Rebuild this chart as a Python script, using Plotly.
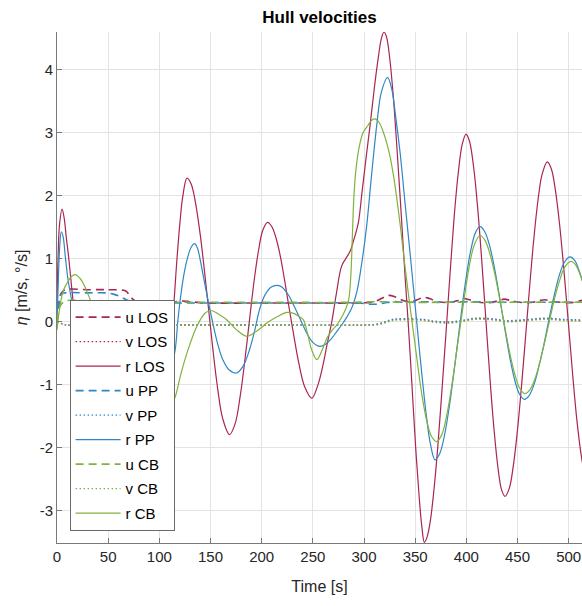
import plotly.graph_objects as go

# ---------------- data ----------------
t_r_los = [0, 1, 2.5, 4.9, 7, 9, 11.3, 14.5, 17, 20, 25, 35, 50, 70, 90, 108, 111, 112.5,
           114, 117, 120, 123, 127, 131, 135, 140, 144, 148, 152, 157, 162, 168.6,
           174, 179, 184, 188.8, 193, 197, 201, 205.7, 210, 214, 218, 222, 226, 231, 236, 242, 249,
           255, 260, 264, 268.5, 273, 278, 282, 286.4, 290, 294.5, 298, 302, 306, 310, 314, 317, 319.5,
           322, 325, 328.5, 332, 336, 340, 343.5, 347, 350.5, 354, 356.5, 359, 361.5, 364.6,
           368, 372, 376, 380, 384, 388, 392, 396, 399.7, 403, 407, 411, 415, 419, 423, 427, 431, 434.5, 437.8,
           442, 446, 450, 454, 458, 462, 466, 470, 474, 479.1, 483, 487, 491, 495, 499.6, 504, 508, 513, 517]
r_los = [0.3, 1.0, 1.55, 1.79, 1.65, 1.35, 1.04, 0.52, 0.15, -0.1, -0.2, -0.1, 0.0, 0.0, 0.0, 0.0, 0.05, 0.0,
         0.25, 0.95, 1.55, 2.0, 2.28, 2.19, 1.92, 1.38, 0.82, 0.22, -0.39, -1.06, -1.54, -1.79,
         -1.62, -1.18, -0.55, 0.13, 0.70, 1.14, 1.45, 1.58, 1.51, 1.33, 1.06, 0.7, 0.3, -0.18, -0.63, -1.03, -1.21,
         -1.0, -0.68, -0.35, 0.0, 0.45, 0.88, 1.0, 1.12, 1.3, 1.58, 2.05, 2.6, 3.13, 3.7, 4.2, 4.5, 4.6,
         4.52, 4.2, 3.6, 2.8, 1.8, 0.75, -0.1, -1.05, -2.0, -2.8, -3.25, -3.5, -3.42, -3.18,
         -2.72, -2.0, -1.12, -0.2, 0.75, 1.65, 2.35, 2.82, 2.98, 2.87, 2.47, 1.82, 0.98, 0.05, -0.88, -1.70, -2.33, -2.67, -2.77,
         -2.64, -2.27, -1.71, -1.0, -0.21, 0.59, 1.33, 1.93, 2.34, 2.54, 2.43, 2.09, 1.56, 0.88, 0.0, -0.86, -1.56, -2.2, -2.52]

t_r_pp = [0, 1, 2.5, 4.2, 6, 8.1, 10.5, 13, 16, 20, 30, 45, 60, 75, 90, 100, 106, 110,
          115.5, 118, 120.4, 124, 127, 131, 134.4, 137, 140, 143, 148, 152, 157, 162, 168, 175.8,
          182, 188, 193, 198, 203, 209, 215.3, 220, 226, 232, 238, 244, 250, 257,
          262, 268, 274, 279, 283, 288, 293, 297.5, 302.7, 307.5, 312.5, 317, 323, 327, 331, 335.3, 340, 345, 351.5,
          356, 361, 365, 369.4, 374, 379, 384, 389, 394, 399, 404, 409, 413.4, 418, 423, 428, 433, 438, 443, 448, 452, 456.7,
          461, 466, 471, 476, 481, 486, 491, 496, 501.3, 506, 510, 513, 516]
r_pp = [0.0, 0.5, 1.15, 1.43, 1.35, 1.04, 0.7, 0.46, 0.2, -0.05, -0.25, -0.2, -0.1, -0.2, -0.6, -0.9, -1.0, -0.85,
        -0.44, 0.0, 0.35, 0.75, 0.98, 1.18, 1.24, 1.18, 0.98, 0.72, 0.31, 0.0, -0.35, -0.6, -0.76, -0.81,
        -0.7, -0.45, -0.15, 0.2, 0.42, 0.55, 0.58, 0.55, 0.43, 0.24, 0.03, -0.175, -0.325, -0.39,
        -0.36, -0.27, -0.14, -0.03, 0.07, 0.22, 0.48, 0.9, 1.54, 2.35, 3.13, 3.65, 3.88, 3.7, 3.25, 2.68, 1.9, 1.09, 0.0,
        -0.75, -1.5, -1.95, -2.19, -2.09, -1.77, -1.27, -0.65, 0.0, 0.615, 1.11, 1.42, 1.51, 1.43, 1.19, 0.81, 0.34, -0.15, -0.61, -0.97, -1.15, -1.23,
        -1.18, -1.0, -0.7, -0.34, 0.06, 0.43, 0.75, 0.95, 1.03, 0.97, 0.82, 0.67, 0.5]

t_r_cb = [0, 2, 4, 6.5, 10, 14, 17.9, 22, 26, 30, 32.5, 40, 50, 60, 75, 90, 100, 108, 112,
          115.5, 120.4, 125, 130, 136.7, 144.8, 150.7, 158, 166, 175, 185.5, 195, 205, 215, 224.6,
          232, 237, 240.8, 245, 249, 254, 259, 263.7, 268, 273.4, 278, 282, 285, 287, 288.5, 290, 292, 295, 299, 304,
          307.5, 310.8, 314, 318, 322, 325.5, 329, 332.5, 336, 339, 342.5, 346.7, 351, 356, 361, 366, 371,
          376, 381, 386, 391, 395.5, 400, 404, 408, 413.4, 418, 423, 428, 433, 438, 443, 448, 452, 457.3,
          462, 467, 472, 477, 481.6, 486, 491, 496, 502.2, 506, 510, 513, 516]
r_cb = [-0.13, 0.15, 0.35, 0.51, 0.62, 0.72, 0.75, 0.7, 0.6, 0.45, 0.35, 0.0, -0.4, -0.7, -0.9, -1.1, -1.3, -1.35, -1.3,
        -1.19, -0.87, -0.6, -0.35, -0.07, 0.14, 0.18, 0.12, 0.03, -0.12, -0.23, -0.15, -0.02, 0.08, 0.15,
        0.13, 0.08, 0.03, -0.2, -0.45, -0.6, -0.45, -0.26, -0.15, -0.05, 0.07, 0.2, 0.35, 0.7, 1.3, 1.95, 2.4, 2.75, 3.0, 3.12,
        3.2, 3.22, 3.18, 3.05, 2.85, 2.62, 2.3, 1.9, 1.45, 1.02, 0.55, 0.03, -0.5, -1.1, -1.55, -1.82, -1.9,
        -1.79, -1.47, -0.99, -0.41, 0.1, 0.6, 0.98, 1.23, 1.37, 1.30, 1.08, 0.745, 0.325, -0.12, -0.54, -0.87, -1.05, -1.14,
        -1.08, -0.907, -0.63, -0.29, 0.045, 0.355, 0.65, 0.865, 0.96, 0.92, 0.8, 0.67, 0.55]

t_u_los = [0, 2, 4, 8, 30, 50, 65, 68, 71, 74, 78, 85, 110, 116, 122, 130, 145, 200, 240, 290,
           310, 318, 324, 330, 338, 345, 352, 358, 364, 372, 385, 392, 397, 403, 412, 425, 432, 437,
           443, 452, 465, 472, 477, 483, 492, 505, 512, 516]
u_los = [0.0, 0.3, 0.45, 0.51, 0.51, 0.51, 0.5, 0.48, 0.42, 0.36, 0.32, 0.31, 0.31, 0.32, 0.33, 0.32, 0.3, 0.3, 0.3, 0.3,
         0.32, 0.38, 0.42, 0.40, 0.34, 0.32, 0.35, 0.39, 0.37, 0.32, 0.31, 0.34, 0.37, 0.35, 0.31, 0.31, 0.34, 0.36,
         0.34, 0.31, 0.31, 0.34, 0.35, 0.33, 0.31, 0.31, 0.34, 0.35]

t_u_pp = [0, 2, 4, 8, 30, 48, 55, 62, 68, 75, 85, 120, 200, 260, 295, 305, 312, 320, 330, 340, 359, 370,
          400, 420, 440, 480, 516]
u_pp = [0.0, 0.3, 0.44, 0.46, 0.46, 0.46, 0.44, 0.4, 0.35, 0.31, 0.3, 0.3, 0.3, 0.3, 0.3, 0.28, 0.28, 0.3, 0.32, 0.31, 0.32, 0.31,
        0.32, 0.31, 0.31, 0.31, 0.31]

t_u_cb = [0, 3, 8, 20, 40, 60, 80, 110, 200, 290, 310, 320, 340, 380, 420, 460, 516]
u_cb = [0.0, 0.25, 0.33, 0.34, 0.33, 0.32, 0.31, 0.31, 0.31, 0.31, 0.32, 0.32, 0.31, 0.31, 0.31, 0.31, 0.31]

t_v = [0, 10, 60, 115, 200, 300, 312, 320, 328, 340, 358, 370, 385, 398, 410, 425, 440, 460, 478, 495, 516]
v_los = [0.0, -0.05, -0.05, -0.05, -0.05, -0.05, -0.04, -0.01, 0.03, 0.04, 0.03, 0.0, -0.01, 0.02, 0.05, 0.04, 0.01, 0.03, 0.05, 0.03, 0.02]
v_pp = [0.0, -0.05, -0.05, -0.05, -0.05, -0.05, -0.04, 0.0, 0.04, 0.05, 0.04, 0.01, 0.0, 0.03, 0.06, 0.05, 0.02, 0.04, 0.06, 0.04, 0.03]
v_cb = [0.0, -0.05, -0.05, -0.05, -0.05, -0.05, -0.05, -0.02, 0.02, 0.03, 0.02, -0.01, -0.02, 0.01, 0.04, 0.03, 0.0, 0.02, 0.04, 0.02, 0.01]

x_ticks = [0, 50, 100, 150, 200, 250, 300, 350, 400, 450, 500]
x_tick_labels = ["0", "50", "100", "150", "200", "250", "300", "350", "400", "450", "500"]
y_ticks = [-3, -2, -1, 0, 1, 2, 3, 4]
y_tick_labels = ["-3", "-2", "-1", "0", "1", "2", "3", "4"]

# ---------------- styling ----------------
RED = "#A8264F"
BLUE = "#2F86C6"
GREEN = "#80B23E"
FONT = "Liberation Sans, Arial, sans-serif"

series = [
    ("u LOS", t_u_los, u_los, RED, "8px,5px", 1.6),
    ("v LOS", t_v, v_los, RED, "1.5px,2.5px", 1.3),
    ("r LOS", t_r_los, r_los, RED, "solid", 1.2),
    ("u PP", t_u_pp, u_pp, BLUE, "8px,5px", 1.6),
    ("v PP", t_v, v_pp, BLUE, "1.5px,2.5px", 1.3),
    ("r PP", t_r_pp, r_pp, BLUE, "solid", 1.2),
    ("u CB", t_u_cb, u_cb, GREEN, "8px,5px", 1.6),
    ("v CB", t_v, v_cb, GREEN, "1.5px,2.5px", 1.3),
    ("r CB", t_r_cb, r_cb, GREEN, "solid", 1.2),
]

fig = go.Figure()
for i, (name, tx, vy, col, dash, w) in enumerate(series):
    fig.add_trace(go.Scatter(
        x=tx, y=vy, name=name, mode="lines", legendgroup=str(i),
        line=dict(color=col, dash=dash, width=w, shape="spline", smoothing=1.0),
    ))

fig.update_layout(
    width=582, height=606,
    margin=dict(l=57, r=0, t=32, b=63),
    paper_bgcolor="white", plot_bgcolor="white",
    font=dict(family=FONT, size=15, color="#262626"),
    title=dict(text="<b>Hull velocities</b>", x=0.5, xref="paper", xanchor="center",
               y=1 - 17 / 606, yref="container", yanchor="middle",
               font=dict(size=17, color="#000000", family=FONT)),
    showlegend=True,
    legend=dict(x=0.024, y=0.4758, xanchor="left", yanchor="top",
                bgcolor="white", bordercolor="#6a6a6a", borderwidth=1,
                font=dict(size=15, color="#000000", family=FONT),
                tracegroupgap=2, itemwidth=45),
)
fig.update_xaxes(
    range=[0, 513], tickvals=x_ticks, ticktext=x_tick_labels,
    showgrid=True, gridcolor="#e3e3e3", gridwidth=1,
    showline=True, linecolor="#7a7a7a", linewidth=1,
    ticks="inside", ticklen=5, tickcolor="#7a7a7a",
    zeroline=False, mirror=False,
    title=dict(text="Time [s]", font=dict(size=16, color="#262626"), standoff=16),
    tickfont=dict(size=15, color="#262626"),
)
fig.update_yaxes(
    range=[-3.51, 4.6], tickvals=y_ticks, ticktext=y_tick_labels,
    showgrid=True, gridcolor="#e3e3e3", gridwidth=1,
    showline=True, linecolor="#7a7a7a", linewidth=1,
    ticks="inside", ticklen=5, tickcolor="#7a7a7a",
    zeroline=False, mirror=False,
    title=dict(text="<i>η</i> [m/s, °/s]", font=dict(size=16, color="#262626"), standoff=8),
    tickfont=dict(size=15, color="#262626"),
)

fig.write_html("out.html")
